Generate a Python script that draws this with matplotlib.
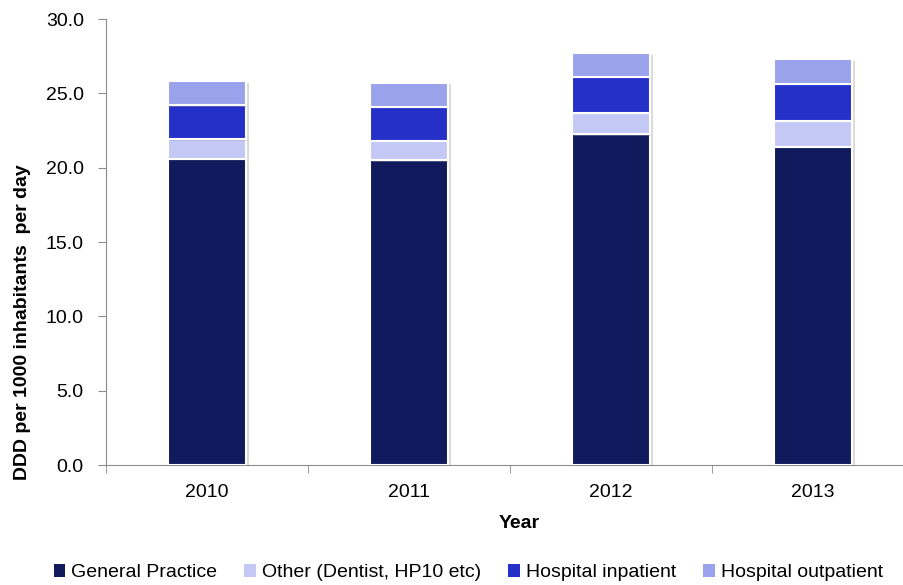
import numpy as np
import matplotlib.pyplot as plt
import matplotlib.patheffects as pe
from matplotlib.patches import Rectangle
from matplotlib.ticker import FormatStrFormatter

plt.rcParams['font.family'] = ['Liberation Sans', 'DejaVu Sans']

years = ['2010', '2011', '2012', '2013']
general_practice = [20.6, 20.5, 22.25, 21.4]
other = [1.3, 1.3, 1.45, 1.75]
hospital_inpatient = [2.3, 2.3, 2.4, 2.5]
hospital_outpatient = [1.6, 1.6, 1.6, 1.65]

series = [
    ('General Practice', general_practice, '#121a5e'),
    ('Other (Dentist, HP10 etc)', other, '#c4c8f5'),
    ('Hospital inpatient', hospital_inpatient, '#2530c9'),
    ('Hospital outpatient', hospital_outpatient, '#9aa2ec'),
]

fig = plt.figure(figsize=(9.04, 5.85), dpi=100)
ax = fig.add_axes([0.1173, 0.2051, 0.8827, 0.7624])

x = np.arange(len(years))
bottom = np.zeros(len(years))
shadow = [pe.SimplePatchShadow(offset=(2, -1), shadow_rgbFace='#999999', alpha=0.35), pe.Normal()]
handles = []
for label, vals, color in series:
    ax.bar(x, vals, width=0.39, bottom=bottom, color=color, edgecolor='white',
           linewidth=1.5, path_effects=shadow, zorder=3)
    bottom += np.array(vals)
    handles.append(Rectangle((0, 0), 1, 1, facecolor=color, edgecolor='none', label=label))

ax.set_ylim(0, 30)
ax.set_yticks(np.arange(0, 31, 5))
ax.yaxis.set_major_formatter(FormatStrFormatter('%.1f'))
ax.set_xlim(-0.5, 3.45)
ax.set_xticks(x)
ax.set_xticklabels(years)
ax.set_xticks([-0.5, 0.5, 1.5, 2.5], minor=True)

for side in ['top', 'right']:
    ax.spines[side].set_visible(False)
for side in ['left', 'bottom']:
    ax.spines[side].set_color('#8c8c8c')

ax.tick_params(axis='x', which='major', length=0, labelsize=14, pad=14)
ax.tick_params(axis='x', which='minor', length=6, color='#8c8c8c', direction='out')
ax.tick_params(axis='y', length=6, color='#8c8c8c', labelsize=14, pad=10)

ax.set_ylabel('DDD per 1000 inhabitants  per day', fontsize=14, fontweight='bold')
ax.yaxis.set_label_coords(-0.094, 0.32)
ax.set_xlabel('Year', fontsize=14, fontweight='bold')
ax.xaxis.set_label_coords(0.518, -0.1125)

ax.legend(handles=handles, loc='center', bbox_to_anchor=(0.454, -0.242), ncol=4,
          frameon=False, fontsize=14, handlelength=0.6, handleheight=0.6,
          handletextpad=0.3, columnspacing=1.4)

fig.savefig('out.png', dpi=100)
